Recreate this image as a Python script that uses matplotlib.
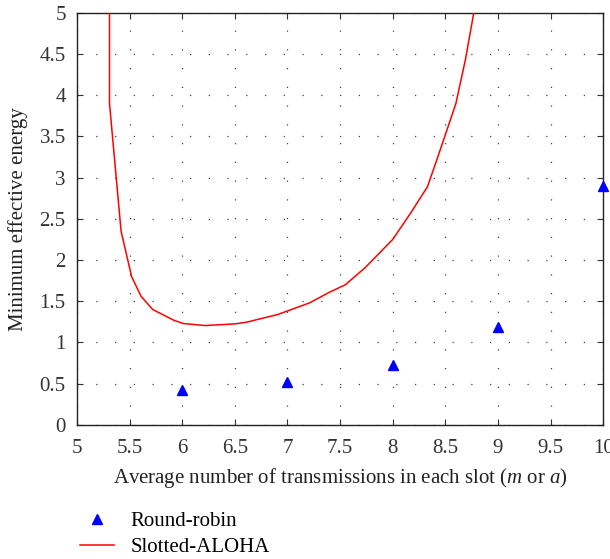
import matplotlib
matplotlib.use('Agg')
import matplotlib.pyplot as plt
from matplotlib.lines import Line2D

plt.rcParams['font.family'] = ['Liberation Serif', 'DejaVu Serif']
plt.rcParams['mathtext.fontset'] = 'custom'
plt.rcParams['mathtext.rm'] = 'Liberation Serif'
plt.rcParams['mathtext.it'] = 'Liberation Serif:italic'

# Round-robin points
rr_x = [6, 7, 8, 9, 10]
rr_y = [0.42, 0.52, 0.73, 1.19, 2.90]

# Slotted-ALOHA curve
aloha_x = [5.31, 5.31, 5.42, 5.52, 5.61, 5.72, 5.92, 6.01, 6.22, 6.50, 6.61,
           6.91, 7.21, 7.40, 7.55, 7.74, 8.00, 8.17, 8.33, 8.42, 8.60, 8.69, 8.77]
aloha_y = [5.00, 3.90, 2.35, 1.80, 1.56, 1.40, 1.27, 1.23, 1.205, 1.225, 1.245,
           1.34, 1.48, 1.61, 1.70, 1.91, 2.25, 2.57, 2.89, 3.22, 3.90, 4.43, 5.00]

xticks = [5, 5.5, 6, 6.5, 7, 7.5, 8, 8.5, 9, 9.5, 10]
xtick_labels = ['5', '5.5', '6', '6.5', '7', '7.5', '8', '8.5', '9', '9.5', '10']
yticks = [0, 0.5, 1, 1.5, 2, 2.5, 3, 3.5, 4, 4.5, 5]
ytick_labels = ['0', '0.5', '1', '1.5', '2', '2.5', '3', '3.5', '4', '4.5', '5']

fig = plt.figure(figsize=(6.10, 5.59), dpi=100)
ax = fig.add_axes([0.126, 0.240, 0.863, 0.737])

ax.plot(aloha_x, aloha_y, color='red', lw=1.1, zorder=3)
ax.plot(rr_x, rr_y, linestyle='none', marker='^', color='blue', ms=7,
        clip_on=False, zorder=4)

ax.set_xlim(5, 10)
ax.set_ylim(0, 5)
ax.set_xticks(xticks)
ax.set_xticklabels(xtick_labels)
ax.set_yticks(yticks)
ax.set_yticklabels(ytick_labels)
ax.tick_params(direction='in', top=True, right=True, labelsize=15, length=4,
               colors='#333333')
ax.tick_params(axis='x', pad=10)
ax.tick_params(axis='y', pad=8)
ax.grid(True, linestyle=(0, (1, 14)), color='#444444', lw=0.9)
for s in ax.spines.values():
    s.set_color('#222222')
    s.set_linewidth(1.0)

ax.set_xlabel('Average number of transmissions in each slot ($m$ or $a$)',
              fontsize=15, labelpad=6, color='#222222')
ax.set_ylabel('Minimum effective energy', fontsize=15, labelpad=8, color='#222222')

handles = [
    Line2D([], [], linestyle='none', marker='^', color='blue', ms=7),
    Line2D([], [], color='red', lw=1.1),
]
fig.legend(handles, ['Round-robin', 'Slotted-ALOHA'], loc='lower left',
           bbox_to_anchor=(0.10, -0.03), frameon=False, fontsize=15,
           handlelength=1.63, handletextpad=0.8, labelspacing=0.3)

fig.savefig('out.png', dpi=100)
